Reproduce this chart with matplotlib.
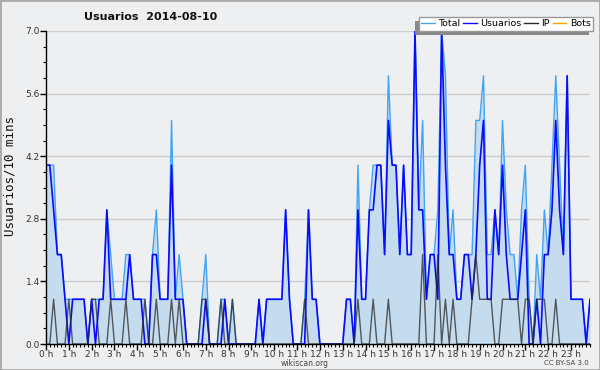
import numpy as np
import matplotlib
matplotlib.use("Agg")
import matplotlib.pyplot as plt
from matplotlib.lines import Line2D
from matplotlib.patches import Rectangle


title = "Usuarios  2014-08-10"

# one value per 10 minutes, six per row = one hour per row
usuarios = [
    4, 4, 3, 2, 2, 1,
    0, 1, 1, 1, 1, 0,
    1, 0, 1, 1, 3, 1,
    1, 1, 1, 1, 2, 1,
    1, 1, 0, 0, 2, 2,
    1, 1, 1, 4, 1, 1,
    1, 0, 0, 0, 0, 0,
    1, 0, 0, 0, 0, 1,
    0, 0, 0, 0, 0, 0,
    0, 0, 1, 0, 1, 1,
    1, 1, 1, 3, 1, 0,
    0, 0, 0, 3, 1, 1,
    0, 0, 0, 0, 0, 0,
    0, 1, 1, 0, 3, 1,
    1, 3, 3, 4, 4, 2,
    5, 4, 4, 2, 4, 2,
    2, 7, 3, 3, 1, 2,
    2, 1, 7, 4, 2, 2,
    1, 1, 2, 2, 1, 2,
    4, 5, 1, 1, 3, 2,
    4, 2, 1, 1, 1, 2,
    3, 0, 0, 1, 0, 2,
    2, 3, 5, 3, 2, 6,
    1, 1, 1, 1, 0, 1,
]

ip = [
    0, 0, 1, 0, 0, 0,
    1, 0, 0, 0, 0, 0,
    1, 1, 0, 0, 0, 1,
    0, 0, 0, 1, 0, 0,
    0, 0, 1, 0, 0, 1,
    0, 0, 0, 1, 0, 1,
    0, 0, 0, 0, 0, 1,
    1, 0, 0, 0, 1, 0,
    0, 1, 0, 0, 0, 0,
    0, 0, 0, 0, 0, 0,
    0, 0, 0, 0, 0, 0,
    0, 0, 1, 0, 0, 0,
    0, 0, 0, 0, 0, 0,
    0, 0, 0, 0, 1, 0,
    0, 0, 1, 0, 0, 0,
    1, 0, 0, 0, 0, 0,
    0, 0, 0, 2, 0, 0,
    0, 2, 0, 1, 0, 1,
    0, 0, 0, 0, 1, 2,
    1, 1, 1, 1, 0, 0,
    1, 1, 1, 1, 1, 0,
    1, 1, 0, 1, 1, 1,
    0, 0, 1, 0, 0, 0,
    0, 0, 0, 0, 0, 0,
]

total = [
    4, 4, 4, 2, 2, 1,
    1, 1, 1, 1, 1, 0,
    1, 1, 1, 1, 3, 2,
    1, 1, 1, 2, 2, 1,
    1, 1, 1, 0, 2, 3,
    1, 1, 1, 5, 1, 2,
    1, 0, 0, 0, 0, 1,
    2, 0, 0, 0, 1, 1,
    0, 1, 0, 0, 0, 0,
    0, 0, 1, 0, 1, 1,
    1, 1, 1, 3, 1, 0,
    0, 0, 1, 3, 1, 1,
    0, 0, 0, 0, 0, 0,
    0, 1, 1, 0, 4, 1,
    1, 3, 4, 4, 4, 2,
    6, 4, 4, 2, 4, 2,
    2, 7, 3, 5, 1, 2,
    2, 3, 7, 6, 2, 3,
    1, 1, 2, 2, 2, 5,
    5, 6, 2, 2, 3, 2,
    5, 3, 2, 2, 1, 3,
    4, 1, 0, 2, 1, 3,
    2, 4, 6, 4, 2, 6,
    1, 1, 1, 1, 0, 1,
]

hour_labels = [f"{h} h" for h in range(24)]
y_ticks = [0.0, 1.4, 2.8, 4.2, 5.6, 7.0]

BG = "#eeeff1"

fig = plt.figure(figsize=(6, 3.7), dpi=100, facecolor=BG)
fig.patches.append(
    Rectangle((0, 0), 1, 1, transform=fig.transFigure,
              fill=False, edgecolor="#aaaaaa", linewidth=2)
)

ax = fig.add_axes([46 / 600, 26 / 370, 544 / 600, 313 / 370])
ax.set_facecolor(BG)

x = np.arange(len(total))

ax.fill_between(x, total, color="#c5dcef", linewidth=0)
ax.plot(x, total, color="#41a4f4", linewidth=1.0)
ax.plot(x, usuarios, color="#0a0aff", linewidth=1.2)
ax.plot(x, ip, color="#2a2a2a", linewidth=1.0, alpha=0.75)

ax.set_xlim(0, len(total) - 1)
ax.set_ylim(0, 7.0)

ax.set_yticks(y_ticks)
ax.set_yticklabels([f"{v:.1f}" for v in y_ticks])
ax.set_yticks(np.arange(0, 7.01, 0.35), minor=True)
ax.set_xticks(np.arange(0, 144, 6))
ax.set_xticklabels(hour_labels)
ax.set_xticks(np.arange(0, 144), minor=True)

ax.tick_params(axis="both", which="major", labelsize=6.5,
               labelcolor="#333333", length=4, width=1, pad=0.5)
ax.tick_params(axis="both", which="minor", length=2.5, width=0.8)

ax.yaxis.grid(True, color="#cccccc", linewidth=1)
ax.set_axisbelow(True)

for side in ["top", "right"]:
    ax.spines[side].set_visible(False)
for side in ["left", "bottom"]:
    ax.spines[side].set_color("black")
    ax.spines[side].set_linewidth(1)

handles = [
    Line2D([], [], color="#41a4f4", lw=1),
    Line2D([], [], color="#0a0aff", lw=1),
    Line2D([], [], color="#2a2a2a", lw=1),
    Line2D([], [], color="#ffa000", lw=1),
]
leg = fig.legend(
    handles, ["Total", "Usuarios", "IP", "Bots"],
    loc="upper right", bbox_to_anchor=(593 / 600, 1 - 17 / 370),
    ncol=4, fontsize=6.8, frameon=True, fancybox=False,
    handlelength=1.4, handletextpad=0.4, columnspacing=0.3,
    borderpad=0.25, borderaxespad=0,
)
leg.get_frame().set_edgecolor("#999999")
leg.get_frame().set_linewidth(1)
leg.get_frame().set_alpha(1)

# shadow offset down-left, drawn behind the legend box
fig.canvas.draw()
bb = leg.get_window_extent().transformed(fig.transFigure.inverted())
fig.patches.append(
    Rectangle((bb.x0 - 4 / 600, bb.y0 - 4 / 370), bb.width, bb.height,
              transform=fig.transFigure, facecolor="#888888",
              edgecolor="none", zorder=1)
)

fig.text(151 / 600, 1 - 17 / 370, title, ha="center", va="center",
         fontsize=8, fontweight="bold", color="#111111")
fig.text(10 / 600, 1 - 176 / 370, "Usuarios/10 mins", rotation=90,
         ha="center", va="center", fontsize=9,
         family="DejaVu Sans Mono", color="#111111")
fig.text(305 / 600, 1 - 363 / 370, "wikiscan.org", ha="center",
         va="center", fontsize=5.5, color="#444444")
fig.text(589 / 600, 1 - 363 / 370, "CC BY-SA 3.0", ha="right",
         va="center", fontsize=5, color="#444444")

fig.savefig("out.png", dpi=100, facecolor=BG)
